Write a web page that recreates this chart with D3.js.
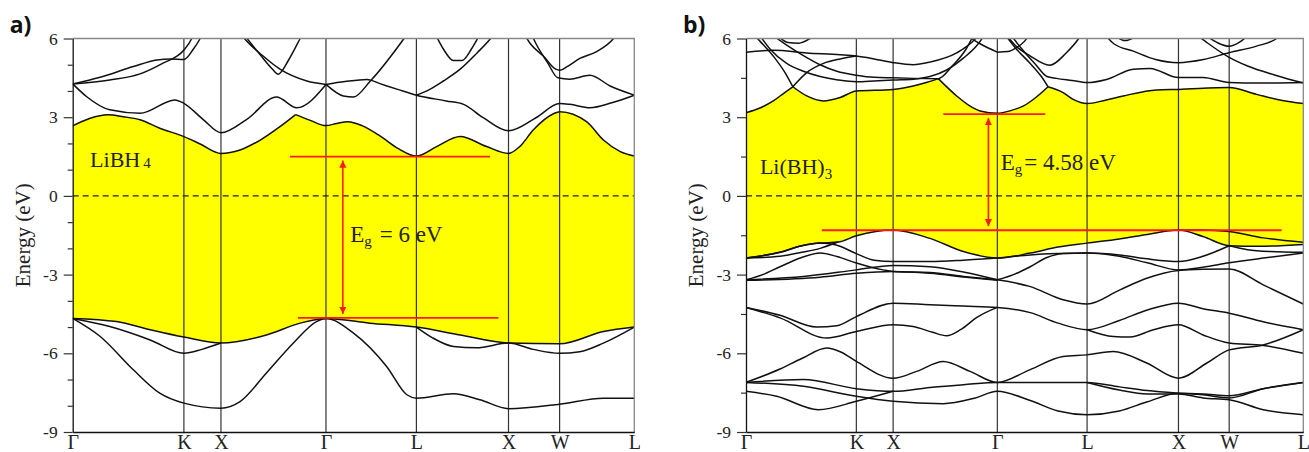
<!DOCTYPE html>
<html>
<head>
<meta charset="utf-8">
<script src="https://cdn.jsdelivr.net/npm/d3@7"></script>
<style>
  body { margin: 0; background: #fff; }
  text { font-family: "Liberation Serif", "Times New Roman", serif; }
</style>
</head>
<body>
<script>
// k-path (percent of total path length) and labels, shared by both panels
const kTicks = [0, 19.8, 26.4, 45.1, 61.2, 77.6, 86.7, 100];
const kLabels = ['Γ', 'K', 'X', 'Γ', 'L', 'X', 'W', 'L'];
const eMajor = [-9, -6, -3, 0, 3, 6];

// ---- panel a) LiBH4 ----
// lowest conduction band (top of the yellow gap), split at its cusp
const cbA1 = [[0,2.67],[3,2.95],[6.3,3.09],[9,3.02],[12,2.9],[15.5,2.58],[19.8,2.26],[22.7,1.98],[26.4,1.62],[29.8,1.75],[33.4,2.13],[36.9,2.64],[39.7,3.1]];
const cbA2 = [[39.7,3.1],[42.3,2.88],[45.1,2.68],[47,2.76],[49,2.83],[51.5,2.68],[54.7,2.29],[58,1.8],[61.2,1.52],[64.8,1.88],[69,2.26],[73.7,1.88],[77.6,1.62],[79.6,1.88],[82,2.51],[85.6,3.13],[86.7,3.21],[91.5,2.83],[94.5,2.13],[97.5,1.69],[100,1.52]];
// highest valence band (bottom of the yellow gap)
const vbA = [[0,-4.67],[7.8,-4.79],[13.8,-5.1],[19.8,-5.38],[26.4,-5.61],[34.5,-5.3],[40.5,-4.85],[45.1,-4.67],[52.9,-4.85],[61.2,-5.0],[69,-5.3],[77.6,-5.61],[86.7,-5.64],[94.5,-5.17],[100,-5.0]];
const bandsA = [
  [[0,4.27],[2.5,3.78],[6.6,3.28],[12,3.15],[18.2,3.66],[19.8,3.53],[23.3,2.9],[26.4,2.41],[31,2.92],[36.3,3.77],[39.9,3.36],[45.1,4.25]],
  [[45.1,4.25],[48.2,3.81],[50,3.77],[53,4.38],[58.9,5.97],[60,6.3]],
  [[29.5,6.3],[30.7,5.97],[33.8,5.35],[36.9,4.83],[41.7,4.38],[45.1,4.25]],
  [[45.1,4.25],[48.5,4.36],[52.4,4.44],[54.7,4.28],[58,4.05],[61.2,3.84],[66.5,3.62],[69.6,3.49],[73.1,2.98],[77.6,2.48],[82.5,2.98],[86.7,3.52],[88.5,3.49],[92.1,3.36],[96,3.55],[100,3.84]],
  [[61.2,3.84],[63.5,4.05],[66,4.38],[69,4.83],[72,5.45],[74.3,5.97],[75.5,6.3]],
  [[64.5,6.2],[66,5.6],[67.8,5.16],[69.3,5.16],[71,5.6],[72.6,6.2]],
  [[30.5,6.15],[33.5,5.35],[35.5,4.85],[36.6,4.64],[38.5,5.2],[40.5,6.0],[41,6.2]],
  [[0,4.27],[4.9,4.52],[10.8,4.93],[15,5.18],[17.5,5.22],[19.8,5.2],[21.5,5.6],[22.7,6.0],[23.2,6.2]],
  [[0,4.27],[6.6,4.42],[12,4.65],[16,5.05],[19.8,5.56],[21.2,6.0],[21.6,6.2]],
  [[80.3,6.2],[81.5,5.8],[83.8,5.33],[86,4.83],[86.7,4.79],[88.2,4.95],[90.3,5.24],[93.3,5.5],[96.3,6.0],[97,6.2]],
  [[81.6,6.2],[82.5,5.8],[84.5,5.1],[86.4,4.5],[88.5,4.45],[92.1,4.6],[95.7,4.19],[100,3.84]],
  [[0,-4.67],[6.6,-4.98],[13.8,-5.49],[19.8,-6.0],[23,-5.85],[26.4,-5.61]],
  [[0,-4.67],[4.9,-5.36],[10.8,-6.63],[15.5,-7.52],[19.8,-7.9],[26.4,-8.09],[29.8,-7.84],[34.5,-6.75],[39.3,-5.61],[43.4,-4.79],[45.1,-4.67],[50,-5.23],[55.9,-6.5],[59.5,-7.58],[61.2,-7.71],[67.8,-7.54],[72.5,-7.77],[77.6,-8.11],[86.7,-7.94],[94.5,-7.71],[100,-7.71]],
  [[61.2,-5.0],[64,-5.4],[67.8,-5.74],[71.9,-5.79],[77.6,-5.61],[82,-5.85],[86.7,-6.0],[90.3,-5.94],[94.5,-5.61],[100,-5.0]]
];

// ---- panel b) Li(BH)3 ----
const cbB1 = [[0,3.17],[2.5,3.35],[4.9,3.62],[7,3.95],[8.4,4.16]];
const cbB2 = [[8.4,4.16],[10.9,3.81],[13.9,3.62],[16.9,3.75],[19.8,4.0],[26.4,4.06],[30,4.19],[32.5,4.33],[34.5,4.47]];
const cbB3 = [[34.5,4.47],[37.8,3.81],[40,3.45],[42,3.24],[45.1,3.15],[47.5,3.25],[49.8,3.43],[52,3.75],[54.2,4.16]];
const cbB4 = [[54.2,4.16],[56.9,3.94],[58.7,3.68],[61.2,3.52],[64.5,3.65],[67.7,3.81],[73.7,4.04],[77.6,4.06],[86.7,4.13],[91.6,3.87],[96,3.65],[100,3.52]];
const vbB = [[0,-2.37],[6.1,-2.15],[10,-1.9],[13.3,-1.8],[16.5,-1.76],[19.8,-1.52],[26.4,-1.3],[33,-1.62],[39,-2.12],[45.1,-2.37],[51,-2.18],[56,-1.95],[61.2,-1.8],[67,-1.64],[72,-1.47],[77.6,-1.3],[82,-1.55],[86.7,-1.9],[92,-1.92],[100,-1.85]];
const bandsB = [
  [[0,5.48],[4.9,5.55],[10.9,5.45],[16.9,5.38],[19.8,5.33],[23,5.22],[26.4,5.08],[30,5.0],[33,5.1],[37.8,5.45],[41,5.95],[42,6.2]],
  [[1.2,6.2],[2.5,5.9],[5,5.3],[7,4.7],[8.4,4.16]],
  [[8.4,4.16],[10.9,4.7],[13.9,5.05],[16.9,5.22],[19.8,5.33]],
  [[2.2,6.2],[4.3,5.6],[7.3,5.05],[10.3,4.75],[13.3,4.55],[16.5,4.42],[19.8,4.35],[23,4.38],[26.4,4.42],[30,4.45],[33,4.55],[36,4.8],[39,5.25],[41.5,5.75],[43,6.2]],
  [[4.3,6.2],[7.3,5.75],[10.3,5.35],[13.3,5.0],[16.3,4.75],[19.8,4.6],[23,4.52],[26.4,4.5],[30,4.48],[34.5,4.47],[37,4.95],[39.5,5.6],[41,6.2]],
  [[39,6.2],[42,5.8],[45.1,5.48]],
  [[5.5,6.15],[7.5,5.85],[9.5,5.82],[11.5,6.0],[12.5,6.15]],
  [[45.1,5.48],[47,5.5],[48.5,5.65],[50,5.9],[51,6.2]],
  [[46.3,6.2],[48.5,5.6],[51,5.05],[53,4.55],[54.2,4.16]],
  [[47.3,6.2],[49.5,5.6],[52,5.0],[54,4.55],[55.7,4.48],[58.5,4.4],[61.2,4.32],[64.7,4.44],[69.5,4.83],[72.5,4.86],[77.6,4.51],[82,4.51],[86.7,4.32],[92,4.3],[100,4.32]],
  [[46.5,6.2],[48.5,5.7],[50.9,5.35],[54.5,4.98],[57.5,5.46],[59.6,5.97],[60.3,6.2]],
  [[64.2,6.2],[66,5.8],[69.5,5.52],[73.5,5.2],[77.6,5.08],[82.1,5.2],[86.7,5.46],[91.6,5.71],[95.2,6.0],[96.2,6.2]],
  [[80.5,6.2],[83,5.8],[86.7,5.28],[90,4.95],[95,4.6],[100,4.3]],
  [[82,6.2],[84.5,5.85],[86.7,5.7],[88.5,5.85],[90.5,6.2]],
  [[66,6.15],[68,5.92],[70.5,6.15]],
  // valence side
  [[0,-2.37],[6.1,-2.3],[10,-2.15],[13.3,-2.0],[16.5,-1.76]],
  [[0,-2.37],[6.1,-2.15],[10,-1.9],[13.3,-1.8],[16,-1.86],[19.8,-2.2],[23,-2.45],[26.4,-2.5],[33,-2.5],[39,-2.45],[45.1,-2.37],[51,-2.25],[56,-2.2],[61.2,-2.18],[67,-2.25],[72,-2.4],[77.6,-2.5],[82,-2.3],[86.7,-1.9]],
  [[86.7,-1.9],[90,-2.05],[94,-2.12],[100,-2.15]],
  [[77.6,-1.3],[82,-1.3],[86.7,-1.36],[92.8,-1.6],[100,-1.77]],
  [[0,-3.2],[3,-3.0],[6.1,-2.7],[10,-2.35],[13.3,-2.18],[16.3,-2.31],[19.8,-2.56],[24.6,-2.82],[26.4,-2.88],[33,-2.92],[39,-3.07],[45.1,-3.2]],
  [[0,-3.2],[10.3,-3.07],[19.8,-2.82],[26.4,-2.65],[33,-2.7],[39,-2.9],[45.1,-3.2]],
  [[0,-3.22],[13.3,-3.1],[19.8,-2.95],[26.4,-2.88],[33,-2.95],[39.5,-3.1],[45.1,-3.22]],
  [[45.1,-3.2],[48,-3.0],[51,-2.7],[54,-2.35],[57,-2.2],[61.2,-2.18],[67,-2.3],[72,-2.55],[77.6,-2.82],[82,-2.72],[86.7,-2.55],[92.8,-2.37],[100,-2.18]],
  [[45.1,-3.2],[50.9,-3.45],[56.9,-3.96],[61.2,-4.12],[67.1,-3.58],[71.9,-3.14],[77.6,-2.84],[82,-2.8],[86.7,-2.79],[92.8,-3.39],[100,-4.12]],
  [[0,-4.25],[6.1,-4.55],[12.7,-5.0],[16.3,-4.95],[19.8,-4.6],[26.4,-4.09],[33,-4.15],[39,-4.2],[45.1,-4.25],[51,-4.45],[56,-4.85],[61.2,-5.1],[67,-4.75],[72,-4.35],[77.6,-4.09],[82,-4.3],[86.7,-4.47],[92.8,-4.8],[100,-5.1]],
  [[0,-4.25],[6.1,-4.65],[14.5,-5.42],[19.8,-5.17],[26.4,-4.91],[30,-4.98],[33.5,-5.2],[36,-5.33],[38.5,-5.1],[41.5,-4.62],[45.1,-4.25]],
  [[61.2,-5.1],[65.9,-5.36],[68.9,-5.38],[73.1,-5.1],[77.6,-4.91],[82,-5.3],[86.7,-5.61],[92.8,-5.7],[100,-6.0]],
  [[0,-7.11],[6.1,-6.6],[10,-6.2],[14.5,-5.8],[17,-5.95],[19.8,-6.31],[26.4,-6.95],[30.6,-6.69],[35.4,-6.31],[40.2,-6.69],[45.1,-7.11],[50.9,-6.63],[56.9,-6.12],[61.2,-6.06],[65.9,-5.93],[71.9,-6.37],[77.6,-6.95],[82.7,-6.37],[86.7,-5.87],[92.8,-5.68],[100,-5.1]],
  [[0,-7.11],[10.3,-7.0],[19.8,-7.35],[26.4,-7.45],[33,-7.3],[39,-7.2],[45.1,-7.11],[53,-7.11],[61.2,-7.11],[67,-7.28],[72,-7.42],[77.6,-7.52],[82,-7.58],[86.7,-7.7],[92.8,-7.35],[100,-7.11]],
  [[0,-7.11],[10.3,-7.26],[19.8,-7.64],[26.4,-7.83],[35.4,-7.92],[41,-7.71],[45.1,-7.45],[51,-7.8],[56,-8.2],[61.2,-8.34],[67,-8.2],[72,-7.85],[77.6,-7.52],[82,-7.55],[86.7,-7.62],[92.8,-7.35],[100,-7.11]],
  [[0,-7.45],[5.5,-7.64],[13,-8.15],[19.8,-7.83],[26.4,-7.45]],
  [[61.2,-7.11],[67,-7.4],[72,-7.55],[77.6,-7.55],[82,-7.7],[86.7,-7.77],[92.8,-8.15],[100,-8.34]]
];

// gap annotations: level lines [k0, k1, E], arrow k, label anchor
const gapA = { cbm: [38.7, 74.3, 1.5], vbm: [40.1, 75.8, -4.65], arrowK: 48.1, textK: 49.4, textE: -1.75, value: '6 eV' };
const gapB = { cbm: [35.4, 53.7, 3.12], vbm: [13.6, 96.1, -1.31], arrowK: 43.5, textK: 45.7, textE: 0.99, value: '4.58 eV' };

const width = 1309, height = 452;
const svg = d3.select('body').append('svg')
  .attr('width', width).attr('height', height)
  .attr('xmlns', 'http://www.w3.org/2000/svg');
const defs = svg.append('defs');

const marker = defs.append('marker')
  .attr('id', 'redhead')
  .attr('viewBox', '0 0 10 10')
  .attr('refX', 10).attr('refY', 5)
  .attr('markerWidth', 4.5).attr('markerHeight', 5.5)
  .attr('markerUnits', 'strokeWidth')
  .attr('orient', 'auto-start-reverse');
marker.append('path').attr('d', 'M0,0 L10,5 L0,10 z').attr('fill', '#ff1a1a');

const y = d3.scaleLinear().domain([-9, 6]).range([432, 38.5]);

function drawPanel(id, x0, x1, cbSegs, vb, bands, minorStep, gap, tag, formula) {
  const x = d3.scaleLinear().domain([0, 100]).range([x0, x1]);
  const line = d3.line().x(d => x(d[0])).y(d => y(d[1])).curve(d3.curveMonotoneX);
  const g = svg.append('g').attr('id', 'panel-' + id);

  defs.append('clipPath').attr('id', 'plot-' + id)
    .append('rect').attr('x', x0).attr('y', y(6)).attr('width', x1 - x0).attr('height', y(-9) - y(6));
  defs.append('clipPath').attr('id', 'abovevb-' + id)
    .append('path')
    .attr('d', d3.area().x(d => x(d[0])).y0(y(6)).y1(d => y(d[1])).curve(d3.curveMonotoneX)(vb));

  const plot = g.append('g').attr('clip-path', `url(#plot-${id})`);

  // yellow gap
  const fill = plot.append('g').attr('clip-path', `url(#abovevb-${id})`);
  const area = d3.area().x(d => x(d[0])).y0(y(-9)).y1(d => y(d[1])).curve(d3.curveMonotoneX);
  cbSegs.forEach(seg => {
    fill.append('path').attr('d', area(seg))
      .attr('fill', '#ffff00').attr('stroke', '#ffff00').attr('stroke-width', 0.8);
  });

  // high-symmetry vertical lines
  plot.selectAll('line.ksym').data(kTicks.slice(1, -1)).enter().append('line')
    .attr('class', 'ksym')
    .attr('x1', d => x(d)).attr('x2', d => x(d))
    .attr('y1', y(6)).attr('y2', y(-9))
    .attr('stroke', '#333').attr('stroke-width', 1.2);

  // Fermi level
  plot.append('line')
    .attr('x1', x0).attr('x2', x1).attr('y1', y(0)).attr('y2', y(0))
    .attr('stroke', '#222').attr('stroke-width', 1.1).attr('stroke-dasharray', '6,4');

  // bands
  const allLines = bands.concat(cbSegs, [vb]);
  plot.selectAll('path.band').data(allLines).enter().append('path')
    .attr('class', 'band')
    .attr('d', line)
    .attr('fill', 'none').attr('stroke', '#111').attr('stroke-width', 1.5);

  // frame (top/right grey)
  g.append('path')
    .attr('d', `M${x0},${y(6)}H${x1}V${y(-9)}`)
    .attr('fill', 'none').attr('stroke', '#888').attr('stroke-width', 1.3);

  // y axis, major + minor ticks
  const minors = d3.range(-9, 6.001, minorStep).filter(v => eMajor.indexOf(v) < 0);
  g.append('g').attr('transform', `translate(${x0},0)`)
    .call(d3.axisLeft(y).tickValues(minors).tickSize(5).tickSizeOuter(0).tickFormat(''))
    .call(s => s.select('.domain').remove())
    .call(s => s.selectAll('line').attr('stroke', '#333').attr('stroke-width', 1.2));
  g.append('g').attr('transform', `translate(${x0},0)`)
    .call(d3.axisLeft(y).tickValues(eMajor).tickSize(9).tickSizeOuter(0).tickPadding(6).tickFormat(d => String(d)))
    .call(s => s.select('.domain').attr('stroke', '#111').attr('stroke-width', 1.3))
    .call(s => s.selectAll('line').attr('stroke', '#333').attr('stroke-width', 1.2))
    .call(s => s.selectAll('text').attr('font-size', 17.5).attr('fill', '#222'));

  // x axis (high symmetry labels)
  g.append('g').attr('transform', `translate(0,${y(-9)})`)
    .call(d3.axisBottom(x).tickValues(kTicks).tickSize(0).tickSizeOuter(0).tickPadding(3).tickFormat((d, i) => kLabels[i]))
    .call(s => s.select('.domain').attr('stroke', '#111').attr('stroke-width', 1.3))
    .call(s => s.selectAll('text').attr('font-size', 20).attr('fill', '#222'));

  // y axis title
  g.append('text')
    .attr('transform', `translate(${x0 - 43},${y(-1.5)}) rotate(-90)`)
    .attr('text-anchor', 'middle')
    .attr('font-size', 21).attr('fill', '#222')
    .text('Energy (eV)');

  // gap annotation
  const red = '#ff1a1a';
  [gap.cbm, gap.vbm].forEach(l => {
    g.append('line')
      .attr('x1', x(l[0])).attr('x2', x(l[1])).attr('y1', y(l[2])).attr('y2', y(l[2]))
      .attr('stroke', red).attr('stroke-width', 1.8);
  });
  g.append('line')
    .attr('x1', x(gap.arrowK)).attr('x2', x(gap.arrowK))
    .attr('y1', y(gap.cbm[2]) + 4).attr('y2', y(gap.vbm[2]) - 4)
    .attr('stroke', red).attr('stroke-width', 1.6)
    .attr('marker-start', 'url(#redhead)').attr('marker-end', 'url(#redhead)');

  const eg = g.append('text')
    .attr('x', x(gap.textK)).attr('y', y(gap.textE))
    .attr('font-size', 23).attr('fill', '#222');
  eg.append('tspan').text('E');
  eg.append('tspan').attr('font-size', 15).attr('dy', 4).text('g');
  eg.append('tspan').attr('dy', -4).attr('dx', id === 'a' ? 8 : 2).text('= ' + gap.value);

  // compound label
  const lab = g.append('text')
    .attr('x', x(formula.k)).attr('y', y(formula.e))
    .attr('font-size', 22).attr('fill', '#222');
  lab.append('tspan').text(formula.main);
  lab.append('tspan').attr('font-size', 15).attr('dx', formula.subDx).attr('dy', formula.subDy).text(formula.sub);

  // panel tag
  svg.append('text')
    .attr('x', x0 - 63).attr('y', 33)
    .style('font-family', '"Open Sans", "Liberation Sans", sans-serif')
    .style('font-weight', 'bold').attr('font-size', 23).attr('fill', '#111')
    .text(tag);
}

drawPanel('a', 72.7, 634.3, [cbA1, cbA2], vbA, bandsA, 1, gapA, 'a)',
  { k: 3.1, e: 1.1, main: 'LiBH', sub: '4', subDx: 3, subDy: 1 });
drawPanel('b', 746, 1303.3, [cbB1, cbB2, cbB3, cbB4], vbB, bandsB, 1.5, gapB, 'b)',
  { k: 2.5, e: 0.85, main: 'Li(BH)', sub: '3', subDx: 0, subDy: 5 });
</script>
</body>
</html>
